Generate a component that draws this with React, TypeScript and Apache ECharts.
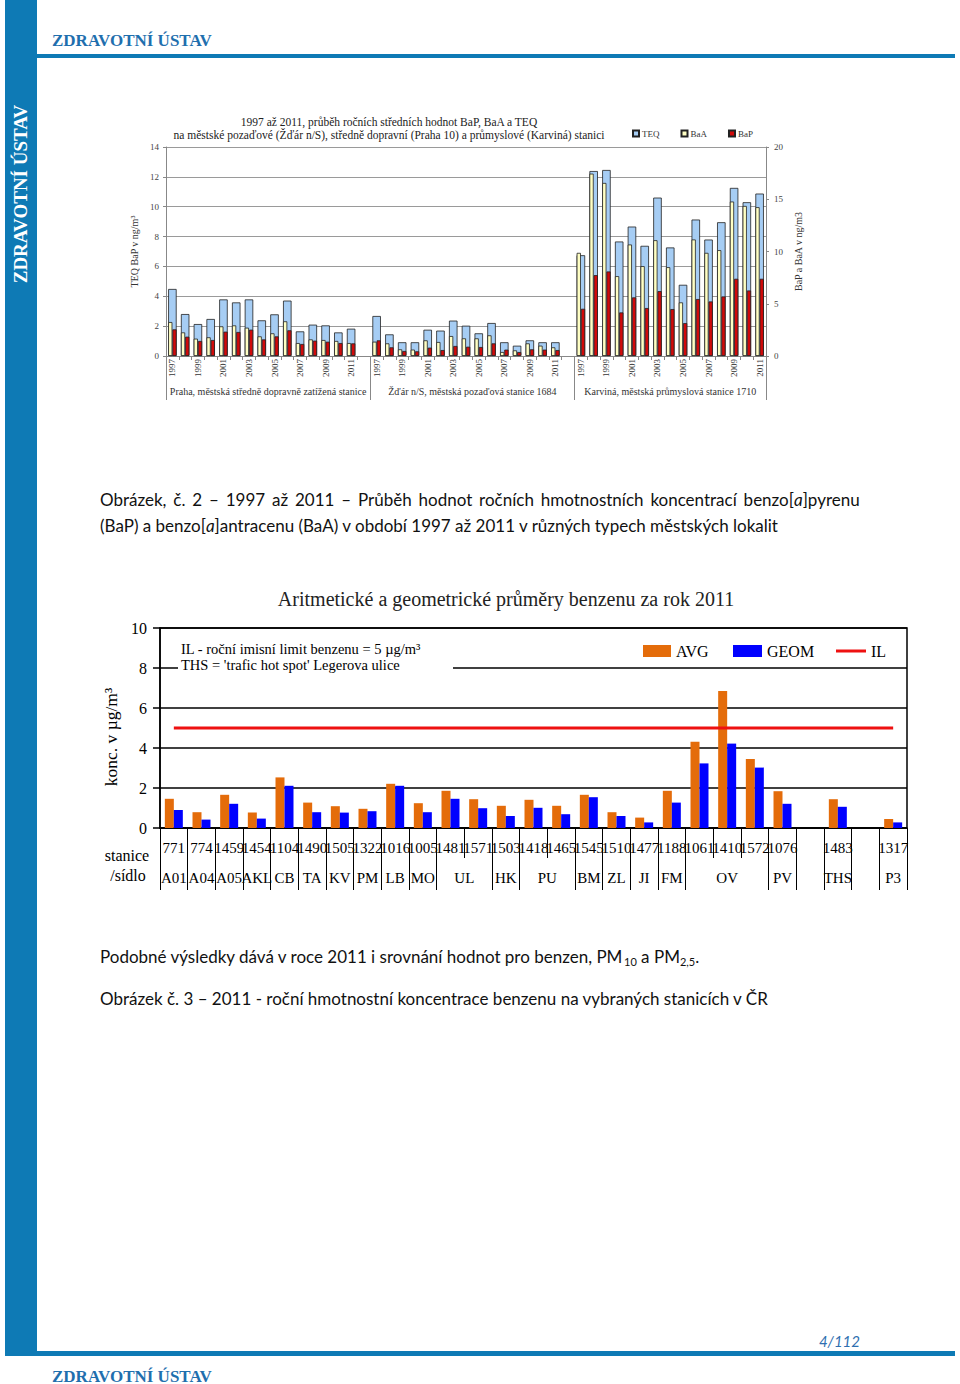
import React, { useEffect, useRef } from 'react';
import * as echarts from 'echarts';

const SERIF = "'Liberation Serif', 'Times New Roman', serif";
const SANS = "Lato, 'Noto Sans', sans-serif";

// ---------- Top chart data (BaP, BaA, TEQ 1997-2011) ----------
const years = ['1997', '1998', '1999', '2000', '2001', '2002', '2003', '2004', '2005', '2006', '2007', '2008', '2009', '2010', '2011'];
const groupKeys = ['P', 'Z', 'K'];
const groupNames = [
  'Praha, městská středně dopravně zatížená stanice',
  'Žďár n/S, městská pozaďová stanice 1684',
  'Karviná, městská průmyslová stanice 1710',
];
const teqPraha = [4.49, 2.81, 2.14, 2.48, 3.79, 3.59, 3.79, 2.39, 2.79, 3.71, 1.65, 2.1, 2.05, 1.58, 1.83];
const baaPraha = [3.25, 2.26, 1.66, 1.79, 2.84, 2.93, 2.71, 1.88, 2.17, 3.32, 1.24, 1.59, 1.53, 1.44, 1.24];
const bapPraha = [2.55, 1.85, 1.44, 1.53, 2.33, 2.3, 2.52, 1.59, 1.88, 2.46, 1.15, 1.47, 1.37, 1.24, 1.21];
const teqZdar = [2.68, 1.45, 0.92, 0.92, 1.76, 1.7, 2.37, 2.03, 1.52, 2.21, 0.92, 0.69, 1.05, 0.92, 0.92];
const baaZdar = [1.37, 1.21, 0.64, 0.61, 1.5, 1.34, 1.91, 1.69, 1.69, 1.98, 0.38, 0.54, 1.21, 0.99, 0.83];
const bapZdar = [1.5, 0.83, 0.48, 0.45, 0.8, 0.57, 0.96, 0.89, 0.86, 1.21, 0.61, 0.38, 0.64, 0.61, 0.57];
const teqKarvina = [6.75, 12.39, 12.46, 7.67, 8.67, 7.38, 10.61, 7.27, 4.77, 9.14, 7.8, 8.96, 11.26, 10.3, 10.88];
const baaKarvina = [9.87, 17.45, 16.56, 7.64, 10.67, 8.6, 11.08, 8.5, 5.13, 11.15, 9.87, 10.13, 14.78, 14.36, 14.24];
const bapKarvina = [4.52, 7.74, 8.09, 4.17, 5.61, 4.59, 6.21, 4.49, 3.15, 5.45, 5.22, 5.7, 7.39, 6.27, 7.39];
const topLeftTicks = { min: 0, max: 14, interval: 2 };
const topRightTicks = { min: 0, max: 20, interval: 5 };

// ---------- Bottom chart data (benzene 2011) ----------
const stations = ['771', '774', '1459', '1454', '1104', '1490', '1505', '1322', '1016', '1005', '1481', '1571', '1503', '1418', '1465', '1545', '1510', '1477', '1188', '1061', '1410', '1572', '1076', '', '1483', ' ', '1317'];
const cityCodes = ['A01', 'A04', 'A05', 'AKL', 'CB', 'TA', 'KV', 'PM', 'LB', 'MO', 'UL', 'HK', 'PU', 'BM', 'ZL', 'JI', 'FM', 'OV', 'PV', '', 'THS', '', 'P3'];
const citySpans = [1, 1, 1, 1, 1, 1, 1, 1, 1, 1, 2, 1, 2, 1, 1, 1, 1, 3, 1, 1, 1, 1, 1];
const avgValues = [1.46, 0.79, 1.66, 0.77, 2.53, 1.27, 1.09, 0.96, 2.21, 1.24, 1.86, 1.44, 1.11, 1.41, 1.11, 1.66, 0.79, 0.52, 1.86, 4.31, 6.85, 3.45, 1.84, null, 1.44, null, 0.45];
const geomValues = [0.9, 0.42, 1.21, 0.47, 2.11, 0.79, 0.77, 0.84, 2.11, 0.79, 1.46, 0.99, 0.6, 1.01, 0.69, 1.54, 0.6, 0.28, 1.27, 3.23, 4.22, 3.02, 1.21, null, 1.06, null, 0.28];
const ilValues = [5, 5, 5, 5, 5, 5, 5, 5, 5, 5, 5, 5, 5, 5, 5, 5, 5, 5, 5, 5, 5, 5, 5, 5, 5, 5, 5];
const bottomTicks = { min: 0, max: 10, interval: 2 };

// ---------- derived structures ----------
const topCats: string[] = [];
const teqAll: (number | null)[] = [];
const baaAll: (number | null)[] = [];
const bapAll: (number | null)[] = [];
const teqSets = [teqPraha, teqZdar, teqKarvina];
const baaSets = [baaPraha, baaZdar, baaKarvina];
const bapSets = [bapPraha, bapZdar, bapKarvina];
const groupStarts: number[] = [];
const groupCenters: Record<string, string> = {};
groupKeys.forEach((g, gi) => {
  const start = topCats.length;
  groupStarts.push(start);
  years.forEach((y, i) => {
    topCats.push(g + y);
    teqAll.push(teqSets[gi][i]);
    baaAll.push(baaSets[gi][i]);
    bapAll.push(bapSets[gi][i]);
  });
  if (gi < groupKeys.length - 1) {
    topCats.push('gap' + gi);
    teqAll.push(null);
    baaAll.push(null);
    bapAll.push(null);
  }
  groupCenters[String((start + topCats.length) / 2)] = groupNames[gi];
});

const cityCenters: Record<string, string> = {};
const cityStarts = new Set<number>();
{
  let pos = 0;
  cityCodes.forEach((c, i) => {
    cityStarts.add(pos);
    cityCenters[String(pos + citySpans[i] / 2)] = c;
    pos += citySpans[i];
  });
}

const justify = (s: string) => s.split(' ').join('{s| }');

const topAxisLabel = { fontFamily: SERIF, color: '#444', fontSize: 9 };
const T = (x: number, y: number, text: string, fontSize: number, fill: string, family: string, align = 'left', extra: any = {}, z = 2) => ({
  type: 'text', x, y, z,
  style: { text, fill, fontFamily: family, fontSize, align, verticalAlign: 'middle', textAlign: align, textVerticalAlign: 'middle', ...extra },
});

const option: any = {
  animation: false,
  backgroundColor: '#fff',
  grid: [
    { left: 166, top: 147, width: 600, height: 209, containLabel: false },
    { left: 160, top: 628, width: 747, height: 200, show: true, borderColor: '#000', borderWidth: 1.5, containLabel: false },
  ],
  legend: [
    {
      data: ['TEQ', 'BaA', 'BaP'], left: 632, top: 129, padding: 0, icon: 'rect', itemWidth: 6, itemHeight: 6, itemGap: 21,
      textStyle: { fontFamily: SERIF, fontSize: 9, color: '#333', padding: [0, 0, 0, -2] },
    },
    { data: ['AVG'], left: 643, top: 643, padding: 0, icon: 'rect', itemWidth: 28, itemHeight: 12, textStyle: { fontFamily: SERIF, fontSize: 16, color: '#000' } },
    { data: ['GEOM'], left: 733, top: 643, padding: 0, icon: 'rect', itemWidth: 29, itemHeight: 12, textStyle: { fontFamily: SERIF, fontSize: 16, color: '#000' } },
    { data: ['IL'], left: 836, top: 643, padding: 0, icon: 'rect', itemWidth: 30, itemHeight: 3, textStyle: { fontFamily: SERIF, fontSize: 16, color: '#000' } },
  ],
  xAxis: [
    {
      gridIndex: 0, type: 'category', data: topCats, position: 'bottom',
      axisLine: { lineStyle: { color: '#888', width: 1 } },
      axisTick: { show: true, interval: 0, length: 4, lineStyle: { color: '#888' } },
      axisLabel: {
        rotate: 90, fontFamily: SERIF, fontSize: 9, color: '#333', margin: 3,
        interval: (i: number, v: string) => !v.startsWith('gap') && (Number(v.slice(1)) - 1997) % 2 === 0,
        formatter: (v: string) => (v.startsWith('gap') ? '' : v.slice(1)),
      },
    },
    { gridIndex: 0, type: 'category', data: topCats, position: 'bottom', show: false },
    {
      gridIndex: 0, type: 'category', data: topCats, position: 'bottom',
      axisLine: { show: false },
      axisTick: { show: true, length: 44, interval: (i: number) => groupStarts.includes(i), lineStyle: { color: '#888' } },
      axisLabel: { show: false },
    },
    {
      gridIndex: 0, type: 'value', position: 'bottom', min: 0, max: topCats.length, interval: 0.5, offset: 26,
      axisLine: { show: false }, axisTick: { show: false }, splitLine: { show: false },
      axisLabel: { fontFamily: SERIF, fontSize: 10, color: '#333', margin: 4, formatter: (v: number) => groupCenters[String(v)] || '' },
    },
    {
      gridIndex: 1, type: 'category', data: stations, position: 'bottom',
      axisLine: { lineStyle: { color: '#000', width: 1.5 } },
      axisTick: { show: true, interval: 0, length: 30, lineStyle: { color: '#000', width: 1 } },
      axisLabel: { interval: 0, fontFamily: SERIF, fontSize: 15, color: '#000', margin: 12 },
    },
    {
      gridIndex: 1, type: 'category', data: stations, position: 'bottom', offset: 30,
      axisLine: { show: false },
      axisTick: { show: true, length: 32, interval: (i: number) => cityStarts.has(i), lineStyle: { color: '#000', width: 1 } },
      axisLabel: { show: false },
    },
    {
      gridIndex: 1, type: 'value', position: 'bottom', min: 0, max: stations.length, interval: 0.5, offset: 30,
      axisLine: { show: false }, axisTick: { show: false }, splitLine: { show: false },
      axisLabel: { fontFamily: SERIF, fontSize: 15, color: '#000', margin: 12, formatter: (v: number) => cityCenters[String(v)] || '' },
    },
  ],
  yAxis: [
    {
      gridIndex: 0, type: 'value', position: 'left', ...topLeftTicks,
      name: 'TEQ BaP v ng/m³', nameLocation: 'middle', nameGap: 24, nameRotate: 90,
      nameTextStyle: { fontFamily: SERIF, fontSize: 10, color: '#333' },
      axisLine: { show: true, lineStyle: { color: '#888' } },
      axisTick: { show: true, length: 3, lineStyle: { color: '#888' } },
      axisLabel: { ...topAxisLabel, margin: 7 },
      splitLine: { show: true, lineStyle: { color: '#9a9a9a', width: 1 } },
    },
    {
      gridIndex: 0, type: 'value', position: 'right', ...topRightTicks,
      name: 'BaP a BaA v ng/m3', nameLocation: 'middle', nameGap: 22, nameRotate: 90,
      nameTextStyle: { fontFamily: SERIF, fontSize: 10, color: '#333' },
      axisLine: { show: true, lineStyle: { color: '#888' } },
      axisTick: { show: true, length: 3, lineStyle: { color: '#888' } },
      axisLabel: { ...topAxisLabel, margin: 8 },
      splitLine: { show: false },
    },
    {
      gridIndex: 1, type: 'value', position: 'left', ...bottomTicks,
      name: 'konc. v µg/m³', nameLocation: 'middle', nameGap: 40, nameRotate: 90,
      nameTextStyle: { fontFamily: SERIF, fontSize: 17.5, color: '#000', padding: [0, 18, 0, 0] },
      axisLine: { show: true, lineStyle: { color: '#000', width: 1.5 } },
      axisTick: { show: true, length: 7, lineStyle: { color: '#000', width: 1.5 } },
      axisLabel: { fontFamily: SERIF, fontSize: 16, color: '#000', margin: 13 },
      splitLine: { show: true, lineStyle: { color: '#000', width: 1.5 } },
    },
  ],
  series: [
    {
      name: 'TEQ', type: 'bar', xAxisIndex: 0, yAxisIndex: 0, data: teqAll, barWidth: 8.5,
      itemStyle: { color: '#a6cdf4', borderColor: '#222', borderWidth: 0.8 },
    },
    {
      name: 'BaA', type: 'bar', xAxisIndex: 1, yAxisIndex: 1, data: baaAll, barWidth: 4.25, barGap: '0%',
      itemStyle: { color: '#ffffc4', borderColor: '#222', borderWidth: 0.8 },
    },
    {
      name: 'BaP', type: 'bar', xAxisIndex: 1, yAxisIndex: 1, data: bapAll, barWidth: 4.25, barGap: '0%',
      itemStyle: { color: '#d10a0a', borderColor: '#222', borderWidth: 0.8 },
    },
    {
      name: 'AVG', type: 'bar', xAxisIndex: 4, yAxisIndex: 2, data: avgValues, barWidth: 9, barGap: '0%',
      itemStyle: { color: '#e46c0a' },
    },
    {
      name: 'GEOM', type: 'bar', xAxisIndex: 4, yAxisIndex: 2, data: geomValues, barWidth: 9, barGap: '0%',
      itemStyle: { color: '#0000ff' },
    },
    {
      name: 'IL', type: 'line', xAxisIndex: 4, yAxisIndex: 2, data: ilValues, symbol: 'none', z: 5,
      itemStyle: { color: '#ee1111' }, lineStyle: { color: '#ee1111', width: 3 },
    },
  ],
  graphic: [
    // page frame
    { type: 'rect', shape: { x: 5, y: 0, width: 32, height: 1356 }, style: { fill: '#0e7ab5' }, z: 1 },
    { type: 'rect', shape: { x: 37, y: 54, width: 918, height: 4 }, style: { fill: '#0e7ab5' }, z: 1 },
    { type: 'rect', shape: { x: 5, y: 1351, width: 950, height: 5 }, style: { fill: '#0e7ab5' }, z: 1 },
    { ...T(20, 194, 'ZDRAVOTNÍ ÚSTAV', 19, '#fff', SERIF, 'center', { fontWeight: 'bold' }), rotation: Math.PI / 2 },
    T(52, 40, 'ZDRAVOTNÍ ÚSTAV', 17, '#1f6fae', SERIF, 'left', { fontWeight: 'bold' }),
    T(52, 1376, 'ZDRAVOTNÍ ÚSTAV', 17, '#1f6fae', SERIF, 'left', { fontWeight: 'bold' }),
    T(860, 1341, '4/112', 15, '#2f6fb0', SANS, 'right', { fontStyle: 'italic' }),
    // top chart title
    T(389, 122, '1997 až 2011, průběh ročních středních hodnot BaP, BaA a TEQ', 11.5, '#222', SERIF, 'center'),
    T(389, 135, 'na městské pozaďové (Žďár n/S), středně dopravní (Praha 10) a průmyslové (Karviná) stanici', 11.5, '#222', SERIF, 'center'),
    // caption of figure 2
    T(100, 499, justify('Obrázek, č. 2 – 1997 až 2011 – Průběh hodnot ročních hmotnostních koncentrací benzo[{i|a}]pyrenu'), 17, '#111', SANS, 'left', {
      rich: {
        i: { fontFamily: SANS, fontSize: 17, fontStyle: 'italic', fill: '#111' },
        s: { fontFamily: SANS, fontSize: 17, fill: '#111', padding: [0, 2.5, 0, 0] },
      },
    }),
    T(100, 525, '(BaP) a benzo[{i|a}]antracenu (BaA) v období 1997 až 2011 v různých typech městských lokalit', 17, '#111', SANS, 'left', {
      rich: { i: { fontFamily: SANS, fontSize: 17, fontStyle: 'italic', fill: '#111' } },
    }),
    // bottom chart title
    T(506, 599, 'Aritmetické a geometrické průměry benzenu za rok 2011', 20, '#222', SERIF, 'center'),
    // annotation box
    { type: 'rect', shape: { x: 178, y: 640, width: 275, height: 34 }, style: { fill: '#fff' }, z: 50 },
    T(181, 649, 'IL - roční imisní limit benzenu = 5 µg/m³', 14.5, '#000', SERIF, 'left', {}, 51),
    T(181, 665, "THS = 'trafic hot spot' Legerova ulice", 14.5, '#000', SERIF, 'left', {}, 51),
    // row headers
    T(127, 855, 'stanice', 16, '#000', SERIF, 'center'),
    T(128, 875, '/sídlo', 16, '#000', SERIF, 'center'),
    // text below
    T(100, 956, 'Podobné výsledky dává v roce 2011 i srovnání hodnot pro benzen, PM{sub|10} a PM{sub|2,5}.', 17, '#111', SANS, 'left', {
      rich: {
        sub: { fontFamily: SANS, fontSize: 11, fill: '#111', verticalAlign: 'bottom', lineHeight: 11 },
      },
      lineHeight: 22,
    }),
    T(100, 998, 'Obrázek č. 3 – 2011 - roční hmotnostní koncentrace benzenu na vybraných stanicích v ČR', 17, '#111', SANS, 'left'),
  ],
};

export default function App() {
  const ref = useRef<HTMLDivElement>(null);
  useEffect(() => {
    if (!ref.current) return;
    const chart = echarts.init(ref.current, null, { renderer: 'svg' });
    chart.setOption(option);
    return () => chart.dispose();
  }, []);
  return <div ref={ref} style={{ position: 'absolute', left: 0, top: 0, width: 960, height: 1384, background: '#fff' }} />;
}
